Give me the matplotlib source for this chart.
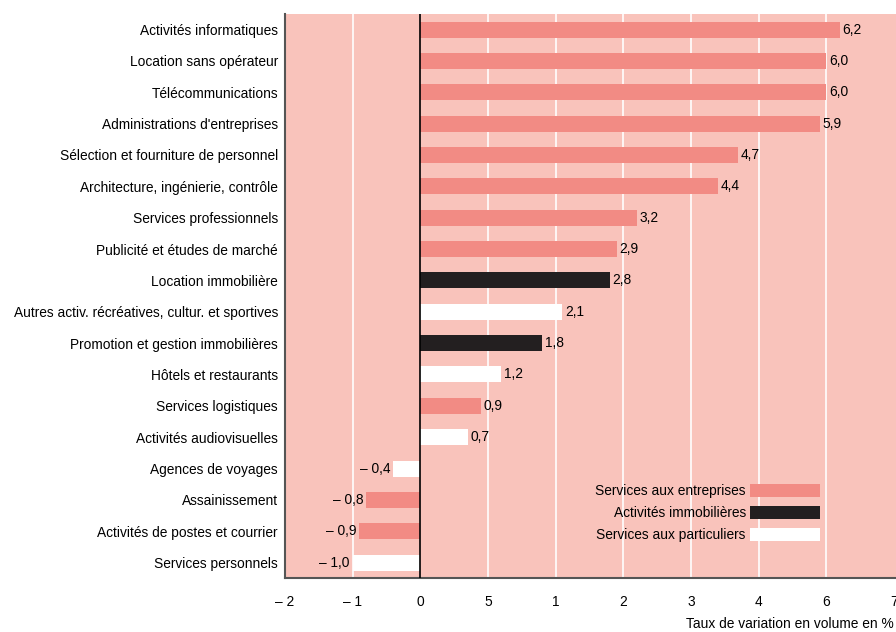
import matplotlib.pyplot as plt
from matplotlib.patches import Patch

plt.rcParams['font.family'] = ['Liberation Sans Narrow', 'Liberation Sans', 'DejaVu Sans']

categories = [
    "Activités informatiques",
    "Location sans opérateur",
    "Télécommunications",
    "Administrations d'entreprises",
    "Sélection et fourniture de personnel",
    "Architecture, ingénierie, contrôle",
    "Services professionnels",
    "Publicité et études de marché",
    "Location immobilière",
    "Autres activ. récréatives, cultur. et sportives",
    "Promotion et gestion immobilières",
    "Hôtels et restaurants",
    "Services logistiques",
    "Activités audiovisuelles",
    "Agences de voyages",
    "Assainissement",
    "Activités de postes et courrier",
    "Services personnels",
]
values = [6.2, 6.0, 6.0, 5.9, 4.7, 4.4, 3.2, 2.9, 2.8, 2.1, 1.8, 1.2, 0.9, 0.7,
          -0.4, -0.8, -0.9, -1.0]
groups = ['E', 'E', 'E', 'E', 'E', 'E', 'E', 'E', 'I', 'P', 'I', 'P', 'E', 'P',
          'P', 'E', 'E', 'P']
group_names = {'E': 'Services aux entreprises',
               'I': 'Activités immobilières',
               'P': 'Services aux particuliers'}
xtick_pos = [-2, -1, 0, 1, 2, 3, 4, 5, 6, 7]
xtick_labels = ['– 2', '– 1', '0', '5', '1', '2', '3', '4', '6', '7']

bg = '#F9C3BB'
colors = {'E': '#F28B84', 'I': '#231F20', 'P': '#FFFFFF'}
fs = 9.9

fig = plt.figure(figsize=(8.96, 6.32), dpi=100)
ax = fig.add_axes([0.318, 0.085, 0.682, 0.893])
ax.set_facecolor(bg)

ypos = list(range(len(categories)))
ax.barh(ypos, values, height=0.51, color=[colors[g] for g in groups], zorder=3)

for y, v in zip(ypos, values):
    txt = f"{abs(v):.1f}".replace('.', ',')
    if v >= 0:
        ax.annotate(txt, (v, y), xytext=(2, 0), textcoords='offset points',
                    ha='left', va='center', fontsize=fs, zorder=4)
    else:
        ax.annotate('– ' + txt, (v, y), xytext=(-2, 0), textcoords='offset points',
                    ha='right', va='center', fontsize=fs, zorder=4)

ax.set_xlim(-2, 7.03)
ax.set_ylim(17.5, -0.5)
ax.set_yticks(ypos)
ax.set_yticklabels(categories, fontsize=fs)
ax.set_xticks(xtick_pos)
ax.set_xticklabels(xtick_labels, fontsize=fs)
ax.tick_params(axis='both', length=0)
ax.tick_params(axis='x', pad=12)
ax.tick_params(axis='y', pad=5)

for x in [-1, 1, 2, 3, 4, 5, 6]:
    ax.axvline(x, color='white', lw=1.2, zorder=1)
ax.axvline(0, color='black', lw=1.2, zorder=5)

for s in ['top', 'right']:
    ax.spines[s].set_visible(False)
for s in ['left', 'bottom']:
    ax.spines[s].set_color('#555555')
    ax.spines[s].set_linewidth(1.5)

handles = [Patch(facecolor=colors[g], label=group_names[g]) for g in ['E', 'I', 'P']]
leg = ax.legend(handles=handles, markerfirst=False, frameon=False, fontsize=fs,
                handlelength=5.1, handleheight=1.15, labelspacing=0.55,
                handletextpad=0.3, loc='lower right', bbox_to_anchor=(0.896, 0.042))
for t in leg.get_texts():
    t.set_ha('right')

fig.text(0.998, 0.002, 'Taux de variation en volume en %', ha='right', va='bottom',
         fontsize=fs)

plt.savefig('out.png', dpi=100)
